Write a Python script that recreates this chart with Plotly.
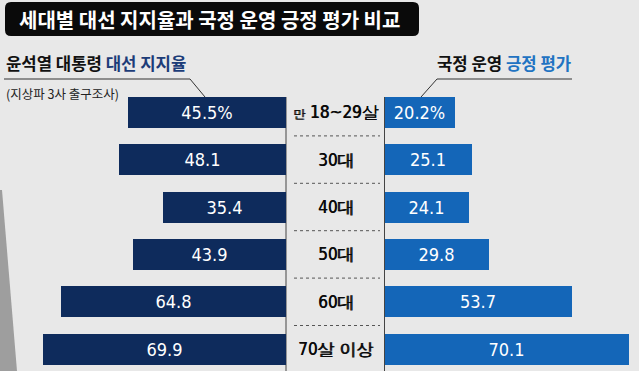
import plotly.graph_objects as go

# ---------------- data ----------------
categories = ["만 18~29살", "30대", "40대", "50대", "60대", "70살 이상"]
support_vals = [45.5, 48.1, 35.4, 43.9, 64.8, 69.9]      # 대선 지지율
approval_vals = [20.2, 25.1, 24.1, 29.8, 53.7, 70.1]     # 국정 운영 긍정 평가
title_text = "세대별 대선 지지율과 국정 운영 긍정 평가 비교"
left_head = ("윤석열 대통령 ", "대선 지지율")
left_note = "(지상파 3사 출구조사)"
right_head = ("국정 운영 ", "긍정 평가")

W, H = 639, 371
BG = "#e8e8e8"
NAVY = "#0e2b5c"
BLUE = "#1466b8"
NUM_FONT = "Liberation Sans Narrow, DejaVu Sans Condensed, Liberation Sans, Arial"
KR_FONT = "Noto Sans CJK KR, Noto Sans, sans-serif"


def px(x):
    return x / W


def py(y):
    return 1 - y / H


idx = list(range(len(categories)))


def fmt(v, i):
    return f"{v:.1f}%" if i == 0 else f"{v:.1f}"


fig = go.Figure()
fig.add_trace(go.Bar(
    x=support_vals, y=idx, orientation="h", xaxis="x", yaxis="y",
    width=0.654, marker=dict(color=NAVY, line=dict(width=0)),
    text=[fmt(v, i) for i, v in enumerate(support_vals)],
    textposition="inside", insidetextanchor="middle", textangle=0,
    textfont=dict(color="white", size=18, family=NUM_FONT),
    hoverinfo="skip",
))
fig.add_trace(go.Bar(
    x=approval_vals, y=idx, orientation="h", xaxis="x2", yaxis="y",
    width=0.654, marker=dict(color=BLUE, line=dict(width=0)),
    text=[fmt(v, i) for i, v in enumerate(approval_vals)],
    textposition="inside", insidetextanchor="middle", textangle=0,
    textfont=dict(color="white", size=18, family=NUM_FONT),
    hoverinfo="skip",
))

shapes = []
# decorative building on the left
shapes.append(dict(type="path", xref="paper", yref="paper",
                   path=f"M {px(0)} {py(190)} L {px(2)} {py(190)} L {px(17)} {py(371)} L {px(0)} {py(371)} Z",
                   fillcolor="#9e9e9e", line=dict(width=0), layer="below"))
# title box (rounded)
x0, x1, y0, y1, r = 5, 419, 2, 36, 6
path = (f"M {px(x0 + r)} {py(y0)} L {px(x1 - r)} {py(y0)} Q {px(x1)} {py(y0)} {px(x1)} {py(y0 + r)} "
        f"L {px(x1)} {py(y1 - r)} Q {px(x1)} {py(y1)} {px(x1 - r)} {py(y1)} "
        f"L {px(x0 + r)} {py(y1)} Q {px(x0)} {py(y1)} {px(x0)} {py(y1 - r)} "
        f"L {px(x0)} {py(y0 + r)} Q {px(x0)} {py(y0)} {px(x0 + r)} {py(y0)} Z")
shapes.append(dict(type="path", xref="paper", yref="paper", path=path,
                   fillcolor="#0a0a0a", line=dict(width=0)))
# leader lines
shapes.append(dict(type="path", xref="paper", yref="paper",
                   path=f"M {px(4)} {py(79)} L {px(190)} {py(79)} L {px(205)} {py(97)}",
                   line=dict(color="#333333", width=1)))
shapes.append(dict(type="path", xref="paper", yref="paper",
                   path=f"M {px(572)} {py(79)} L {px(437)} {py(79)} L {px(421)} {py(97)}",
                   line=dict(color="#333333", width=1)))
# vertical axis lines
for xv in (286, 384.5):
    shapes.append(dict(type="line", xref="paper", yref="paper",
                       x0=px(xv), x1=px(xv), y0=py(97), y1=py(371),
                       line=dict(color="#444444", width=1), layer="below"))
# dotted separators
for i in range(len(categories) - 1):
    shapes.append(dict(type="line", xref="paper", yref="y",
                       x0=px(294), x1=px(380), y0=i + 0.5, y1=i + 0.5,
                       line=dict(color="#555555", width=1, dash="dot")))

annotations = []
annotations.append(dict(xref="paper", yref="paper", x=px(17), y=py(19),
                        xanchor="left", yanchor="middle", showarrow=False,
                        text=f"<b>{title_text}</b>",
                        font=dict(color="white", size=20, family=KR_FONT)))
annotations.append(dict(xref="paper", yref="paper", x=px(4), y=py(63),
                        xanchor="left", yanchor="middle", showarrow=False,
                        text=f"<b>{left_head[0]}<span style='color:#1c3c78'>{left_head[1]}</span></b>",
                        font=dict(color="#111111", size=16.7, family=KR_FONT)))
annotations.append(dict(xref="paper", yref="paper", x=px(4), y=py(94),
                        xanchor="left", yanchor="middle", showarrow=False,
                        text=left_note,
                        font=dict(color="#222222", size=12.5, family=KR_FONT)))
annotations.append(dict(xref="paper", yref="paper", x=px(573), y=py(63),
                        xanchor="right", yanchor="middle", showarrow=False,
                        text=f"<b>{right_head[0]}<span style='color:#2173c2'>{right_head[1]}</span></b>",
                        font=dict(color="#111111", size=16.7, family=KR_FONT)))
for i, c in enumerate(categories):
    if c.startswith("만 "):
        txt = f"<span style='font-size:12px'>만</span> {c[2:]}"
    else:
        txt = c
    annotations.append(dict(xref="paper", yref="y", x=px(335.5), y=i,
                            xanchor="center", yanchor="middle", showarrow=False,
                            text=txt,
                            font=dict(color="#0a0a0a", size=17, family=NUM_FONT,
                                      shadow="0.6px 0px 0px #0a0a0a")))

fig.update_layout(
    width=W, height=H,
    margin=dict(l=0, r=0, t=0, b=0, pad=0),
    paper_bgcolor=BG, plot_bgcolor=BG,
    showlegend=False, bargap=0,
    xaxis=dict(domain=[0, px(286)], range=[286 / 3.48, 0], visible=False, fixedrange=True),
    xaxis2=dict(domain=[px(384.5), 1], range=[0, (W - 384.5) / 3.48], anchor="y", visible=False, fixedrange=True),
    yaxis=dict(domain=[0, 1], range=[5.46, -2.367], visible=False, fixedrange=True),
    shapes=shapes, annotations=annotations,
)

fig.write_html(
    "out.html",
    config={"displayModeBar": False},
    post_script="document.body.style.margin='0';document.body.style.background='#e8e8e8';",
)
